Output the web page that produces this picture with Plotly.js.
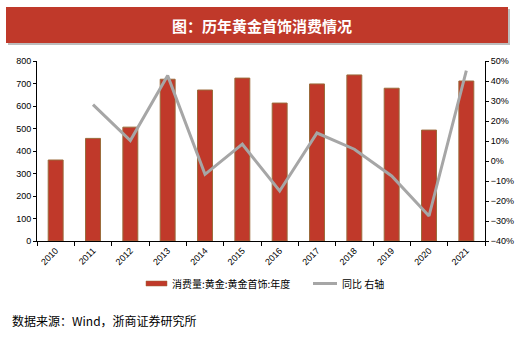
<!DOCTYPE html>
<html>
<head>
<meta charset="utf-8">
<script src="https://cdn.plot.ly/plotly-3.0.1.min.js"></script>
<style>html,body{margin:0;padding:0;background:#fff;}#chart{width:524px;height:337px;}</style>
</head>
<body>
<div id="chart"></div>
<script>
const years = ['2010','2011','2012','2013','2014','2015','2016','2017','2018','2019','2020','2021'];
const consumption = [360, 456, 506, 719, 671, 724, 613, 698, 738, 679, 493, 711];
const yoy = [null, 0.282, 0.102, 0.427, -0.067, 0.084, -0.150, 0.140, 0.059, -0.075, -0.275, 0.452];
const barName = '消费量:黄金:黄金首饰:年度';
const lineName = '同比 右轴';
const titleText = '图：历年黄金首饰消费情况';
const sourceText = '数据来源：Wind，浙商证券研究所';

const W = 524, H = 337;
const L = 37, R = 485, T = 61, B = 241;
const px = x => (x - L) / (R - L);
const py = y => (B - y) / (B - T);

const red = '#c0392a';
const font = '"Liberation Sans", Arial, "Noto Sans CJK SC", sans-serif';
const cjk = '"Noto Sans CJK SC", sans-serif';

const traces = [
  {type: 'bar', x: years, y: consumption, name: barName, width: 0.4,
   marker: {color: red, line: {color: '#9a6a3a', width: 1}}, showlegend: false},
  {type: 'scatter', mode: 'lines', x: years, y: yoy, name: lineName, yaxis: 'y2',
   line: {color: '#a6a6a6', width: 3}, showlegend: false}
];

const layout = {
  width: W, height: H,
  margin: {l: L, r: W - R, t: T, b: H - B, pad: 0},
  paper_bgcolor: '#fff', plot_bgcolor: '#fff',
  font: {family: font, size: 9, color: '#000'},
  xaxis: {type: 'category', categoryorder: 'array', categoryarray: years,
    tickangle: -45, tickson: 'boundaries', ticks: 'outside', ticklen: 4, tickcolor: '#000',
    showline: true, linecolor: '#000', linewidth: 1, showgrid: false, zeroline: false,
    tickfont: {size: 9, family: font}},
  yaxis: {range: [0, 800], dtick: 100, ticks: 'outside', ticklen: 3, tickcolor: '#000',
    showline: true, linecolor: '#000', linewidth: 1, showgrid: false, zeroline: false,
    tickfont: {size: 9, family: font}},
  yaxis2: {overlaying: 'y', side: 'right', range: [-0.4, 0.5], dtick: 0.1, tickformat: '.0%',
    ticks: 'outside', ticklen: 3, tickcolor: '#000', showline: true, linecolor: '#000', linewidth: 1,
    showgrid: false, zeroline: false, tickfont: {size: 9, family: font}},
  shapes: [
    {type: 'rect', xref: 'paper', yref: 'paper', x0: px(8), x1: px(510), y0: py(9), y1: py(45),
     fillcolor: '#bdbdbd', line: {width: 0}, layer: 'below'},
    {type: 'rect', xref: 'paper', yref: 'paper', x0: px(6), x1: px(508), y0: py(7), y1: py(43),
     fillcolor: red, line: {width: 0}},
    {type: 'rect', xref: 'paper', yref: 'paper', x0: px(146), x1: px(167), y0: py(281), y1: py(286),
     fillcolor: red, line: {color: '#9a6a3a', width: 0.5}},
    {type: 'line', xref: 'paper', yref: 'paper', x0: px(313), x1: px(337), y0: py(283.5), y1: py(283.5),
     line: {color: '#a6a6a6', width: 3}}
  ],
  annotations: [
    {xref: 'paper', yref: 'paper', x: px(262), y: py(25), text: '<b>' + titleText + '</b>',
     showarrow: false, xanchor: 'center', yanchor: 'middle',
     font: {family: cjk, size: 15, color: '#fff'}},
    {xref: 'paper', yref: 'paper', x: px(170), y: py(283.5), text: barName,
     showarrow: false, xanchor: 'left', yanchor: 'middle', font: {family: cjk, size: 10, color: '#000'}},
    {xref: 'paper', yref: 'paper', x: px(340), y: py(283.5), text: lineName,
     showarrow: false, xanchor: 'left', yanchor: 'middle', font: {family: cjk, size: 10, color: '#000'}},
    {xref: 'paper', yref: 'paper', x: px(10), y: py(320), text: sourceText,
     showarrow: false, xanchor: 'left', yanchor: 'middle', font: {family: cjk, size: 12, color: '#000'}}
  ]
};

Plotly.newPlot('chart', traces, layout, {staticPlot: true, displayModeBar: false});
</script>
</body>
</html>
